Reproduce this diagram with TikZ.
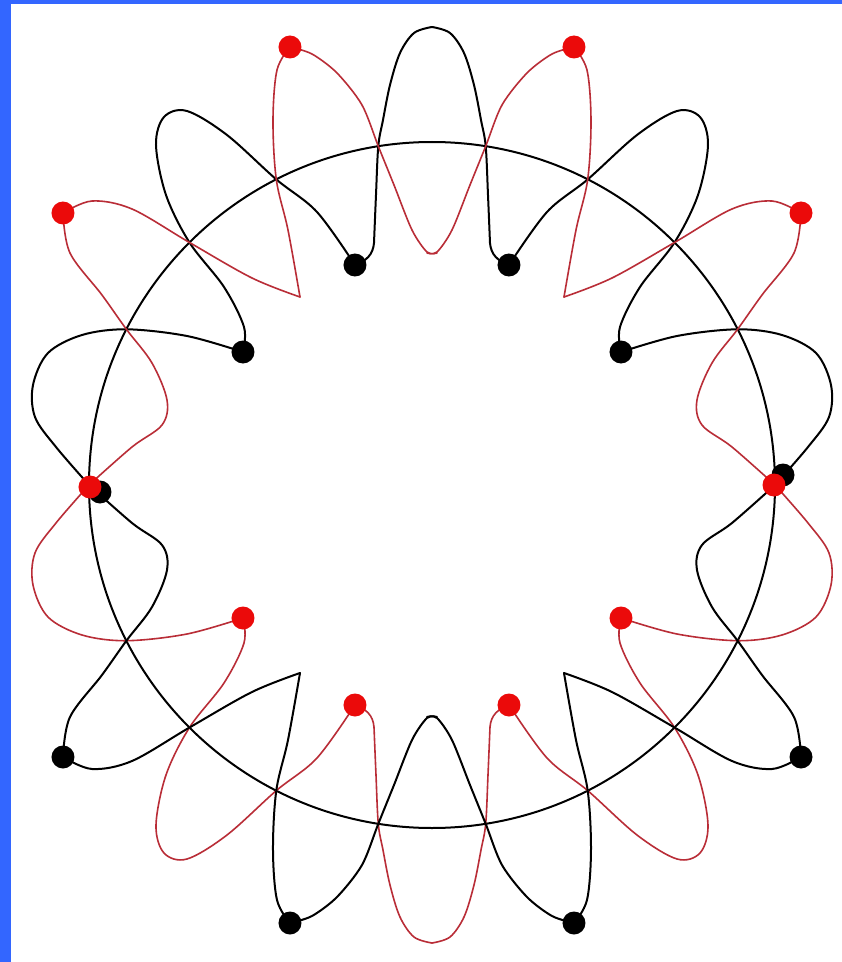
\documentclass[tikz,border=0pt]{standalone}
\definecolor{bordblue}{RGB}{51,102,255}
\definecolor{wavered}{RGB}{185,45,55}
\definecolor{dotred}{RGB}{235,10,10}
\tikzset{
  blackwave/.style={draw=black, line width=2pt, line cap=round, line join=round},
  redwave/.style={draw=wavered, line width=1.6pt, line cap=round, line join=round},
  blackdot/.style={fill=black},
  reddot/.style={fill=dotred},
  ring/.style={draw=black, line width=2pt},
}
% curve that is black in the upper half (top-left quadrant, pixel offsets from the centre)
\newcommand\curveA[1]{%
  \draw[#1] plot[smooth,tension=0.55] coordinates {(0,-458) (-18,-452) (-32,-432) (-42,-400) (-49,-365) (-53.7,-338.8) (-56,-290) (-58,-242)} .. controls (-59,-230) and (-66,-224) .. (-77,-220);
  \draw[#1] plot[smooth,tension=0.55] coordinates {(-77,-220) (-115,-273) (-155.7,-305.6) (-205,-350) (-245,-374) (-268,-368) (-276,-340) (-266,-290) (-242.5,-242.5) (-208,-198) (-188,-158) (-189,-133)};
  \draw[#1] plot[smooth,tension=0.55] coordinates {(-189,-133) (-245,-149) (-305.6,-155.7) (-350,-150) (-384,-132) (-399,-100) (-397,-68) (-376,-38) (-343,0)};
}
% curve that is red in the upper half
\newcommand\curveB[1]{%
  \draw[#1] plot[smooth,tension=0.5] coordinates {(5,-232) (-5,-233) (-20,-255) (-38,-300) (-53.7,-338.8) (-70,-380) (-95,-412) (-120,-431) (-142,-438)};
  \draw[#1] plot[smooth,tension=0.55] coordinates {(-142,-438) (-155,-415) (-159,-365) (-155.7,-305.6) (-144,-255) (-132,-188)};
  \draw[#1] plot[smooth,tension=0.55] coordinates {(-132,-188) (-180,-207) (-242.5,-242.5) (-300,-276) (-340,-284) (-369,-272)};
  \draw[#1] plot[smooth,tension=0.55] coordinates {(-369,-272) (-362,-232) (-330,-190) (-305.6,-155.7) (-280,-122) (-265,-85) (-270,-60) (-300,-38) (-343,0)};
}
\newcommand\dotsA[1]{%
  \fill[#1] (-77,-220) circle (11.5);
  \fill[#1] (-189,-133) circle (11.5);
}
\newcommand\dotsB[1]{%
  \fill[#1] (-142,-438) circle (11.5);
  \fill[#1] (-369,-272) circle (11.5);
}
\begin{document}
\begin{tikzpicture}[x=1pt,y=-1pt]
  \useasboundingbox (-432,-485) rectangle (410,477);
  \fill[white] (-432,-485) rectangle (410,477);
  \fill[bordblue] (-432,-485) rectangle (-421,477);
  \fill[bordblue] (-432,-485) rectangle (410,-481);
  \draw[ring] (0,0) circle (343);
  % upper half
  \begin{scope}
    \curveA{blackwave}\curveB{redwave}
  \end{scope}
  \begin{scope}[xscale=-1]
    \curveA{blackwave}\curveB{redwave}
  \end{scope}
  % lower half: mirror image with the colours swapped
  \begin{scope}[yscale=-1]
    \curveA{redwave}\curveB{blackwave}
  \end{scope}
  \begin{scope}[xscale=-1,yscale=-1]
    \curveA{redwave}\curveB{blackwave}
  \end{scope}
  % dots
  \begin{scope}
    \dotsA{blackdot}\dotsB{reddot}
  \end{scope}
  \begin{scope}[xscale=-1]
    \dotsA{blackdot}\dotsB{reddot}
  \end{scope}
  \begin{scope}[yscale=-1]
    \dotsA{reddot}\dotsB{blackdot}
  \end{scope}
  \begin{scope}[xscale=-1,yscale=-1]
    \dotsA{reddot}\dotsB{blackdot}
  \end{scope}
  \fill[blackdot] (-332,7) circle (11.5);
  \fill[reddot] (-342,2) circle (11.5);
  \fill[blackdot] (351,-10) circle (11.5);
  \fill[reddot] (342,0) circle (11.5);
\end{tikzpicture}
\end{document}
